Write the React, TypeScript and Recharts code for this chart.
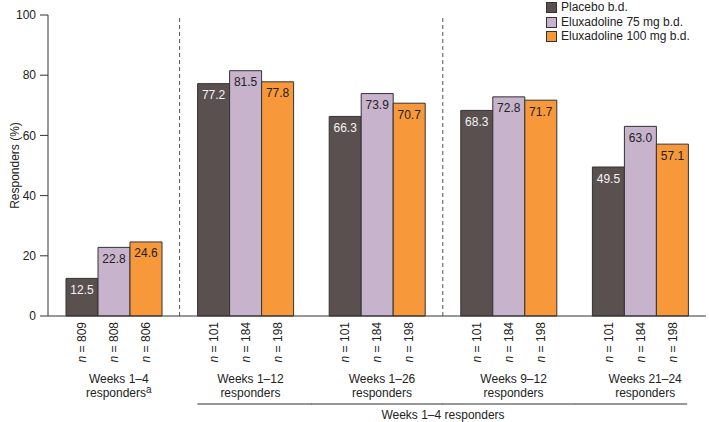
import React from "react";
import { BarChart, Bar, XAxis, YAxis, ReferenceLine, Legend, LabelList } from "recharts";

const groups = ["Weeks 1–4", "Weeks 1–12", "Weeks 1–26", "Weeks 9–12", "Weeks 21–24"];
const placebo = [12.5, 77.2, 66.3, 68.3, 49.5];
const elux75 = [22.8, 81.5, 73.9, 72.8, 63.0];
const elux100 = [24.6, 77.8, 70.7, 71.7, 57.1];
const nPlacebo = [809, 101, 101, 101, 101];
const n75 = [808, 184, 184, 184, 184];
const n100 = [806, 198, 198, 198, 198];
const yTicks = [0, 20, 40, 60, 80, 100];
const seriesNames = ["Placebo b.d.", "Eluxadoline 75 mg b.d.", "Eluxadoline 100 mg b.d."];
const subLabel = "responders";
const bracketLabel = "Weeks 1–4 responders";

const colors = ["#5a5050", "#c8b3cd", "#f7993b"];
const FONT = "'Liberation Sans', Arial, Helvetica, sans-serif";
const TEXT = "#222";

const data = groups.map((g, i) => ({
  group: g,
  placebo: placebo[i],
  e75: elux75[i],
  e100: elux100[i],
  nP: nPlacebo[i],
  n75: n75[i],
  n100: n100[i],
}));

const fmt = (v: any) => Number(v).toFixed(1);

// rotated "n = xxx" under each bar
const NLabel = (props: any) => {
  const vb = props.viewBox || props;
  const { x, y, width, height } = vb;
  const cx = x + width / 2;
  const ty = y + height + 6;
  return (
    <text
      x={cx}
      y={ty}
      transform={`rotate(-90, ${cx}, ${ty})`}
      textAnchor="end"
      dy="0.35em"
      fontSize={12}
      fill={TEXT}
    >
      <tspan fontStyle="italic">n</tspan> = {props.value}
    </text>
  );
};

const GroupTick = (props: any) => {
  const { x, y, payload } = props;
  const i = groups.indexOf(payload.value);
  const half = 66;
  return (
    <g>
      <text x={x + 5} y={y + 67} textAnchor="middle" fontSize={12} fill={TEXT}>
        {payload.value}
      </text>
      <text x={x + 5} y={y + 81} textAnchor="middle" fontSize={12} fill={TEXT}>
        {subLabel}
        {i === 0 && (
          <tspan dy={-4} fontSize={10}>
            a
          </tspan>
        )}
      </text>
      {i >= 1 && (
        <line
          x1={i === 1 ? x - 48 : x - half}
          x2={i === groups.length - 1 ? x + 47 : x + half}
          y1={y + 88}
          y2={y + 88}
          stroke="#333"
          strokeWidth={1}
        />
      )}
      {i === 2 && (
        <text x={x + half} y={y + 103} textAnchor="middle" fontSize={12} fill={TEXT}>
          {bracketLabel}
        </text>
      )}
    </g>
  );
};

// legend in series order (recharts would sort it by name otherwise)
const LegendContent = () => (
  <div style={{ fontSize: 12, color: TEXT, lineHeight: "14.7px" }}>
    {seriesNames.map((name, i) => (
      <div key={name} style={{ display: "flex", alignItems: "center", height: 14.7 }}>
        <span
          style={{
            display: "inline-block",
            width: 11,
            height: 11,
            boxSizing: "border-box",
            background: colors[i],
            border: "1px solid #333",
            marginRight: 4,
          }}
        />
        {name}
      </div>
    ))}
  </div>
);

export default function App() {
  return (
    <div style={{ position: "absolute", left: 0, top: 0 }}>
      <BarChart
        width={709}
        height={422}
        data={data}
        margin={{ top: 15, right: 3, bottom: 0, left: 0 }}
        barSize={32}
        barGap={0}
        style={{ fontFamily: FONT }}
      >
        <XAxis
          dataKey="group"
          interval={0}
          tickLine={false}
          tickSize={0}
          tickMargin={0}
          height={106}
          axisLine={{ stroke: "#333" }}
          tick={<GroupTick />}
        />
        <YAxis
          width={48}
          domain={[0, 100]}
          ticks={yTicks}
          tickSize={8}
          tickMargin={4}
          axisLine={{ stroke: "#333" }}
          tickLine={{ stroke: "#333" }}
          tick={{ fill: TEXT, fontSize: 12 }}
          label={{
            content: (p: any) => {
              const vb = p.viewBox;
              const cx = vb.x + 15;
              const cy = vb.y + vb.height / 2;
              return (
                <text
                  x={cx}
                  y={cy}
                  transform={`rotate(-90, ${cx}, ${cy})`}
                  textAnchor="middle"
                  dy="0.35em"
                  fontSize={12}
                  fill={TEXT}
                >
                  Responders (%)
                </text>
              );
            },
          }}
        />
        <ReferenceLine x={groups[1]} position="start" stroke="#555" strokeDasharray="4 3" />
        <ReferenceLine x={groups[3]} position="start" stroke="#555" strokeDasharray="4 3" />
        <Legend
          layout="vertical"
          align="center"
          verticalAlign="middle"
          wrapperStyle={{ left: 546, top: 0, width: 170 }}
          content={<LegendContent />}
        />
        <Bar dataKey="placebo" name={seriesNames[0]} fill={colors[0]} stroke="#333" isAnimationActive={false}>
          <LabelList dataKey="placebo" position="insideTop" offset={7} fill="#f4f4f4" fontSize={12} formatter={fmt} />
          <LabelList dataKey="nP" content={<NLabel />} />
        </Bar>
        <Bar dataKey="e75" name={seriesNames[1]} fill={colors[1]} stroke="#333" isAnimationActive={false}>
          <LabelList dataKey="e75" position="insideTop" offset={7} fill={TEXT} fontSize={12} formatter={fmt} />
          <LabelList dataKey="n75" content={<NLabel />} />
        </Bar>
        <Bar dataKey="e100" name={seriesNames[2]} fill={colors[2]} stroke="#333" isAnimationActive={false}>
          <LabelList dataKey="e100" position="insideTop" offset={7} fill={TEXT} fontSize={12} formatter={fmt} />
          <LabelList dataKey="n100" content={<NLabel />} />
        </Bar>
      </BarChart>
    </div>
  );
}
